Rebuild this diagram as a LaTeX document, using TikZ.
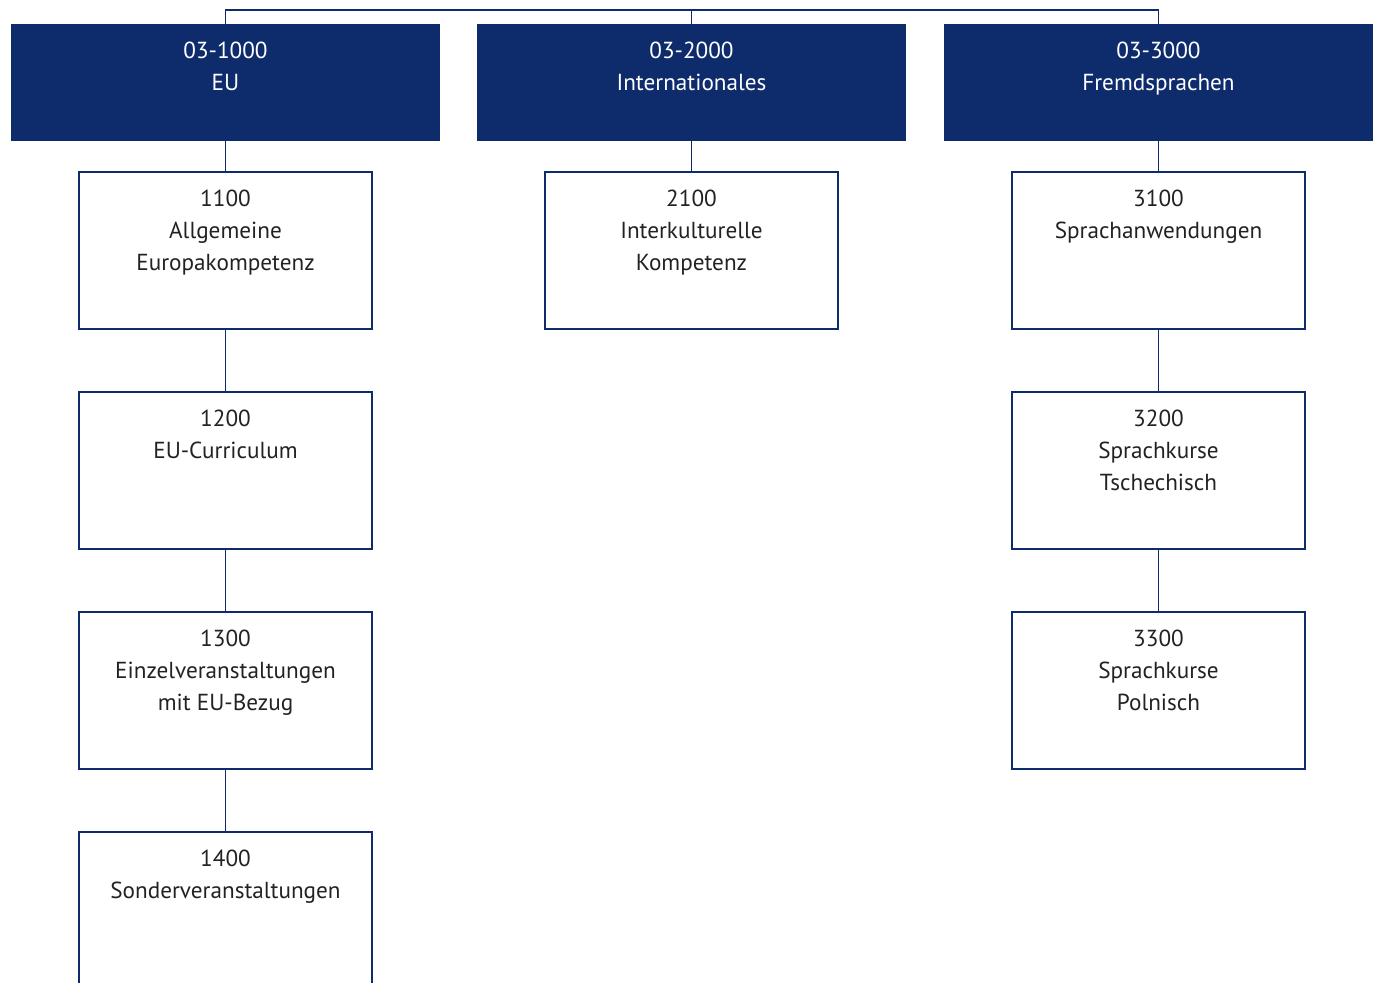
\documentclass[tikz,border=0pt]{standalone}
\usepackage{fontspec}
\setmainfont{PT Sans}
\usetikzlibrary{positioning}
\definecolor{navy}{HTML}{0E2B6C}
\definecolor{ink}{HTML}{222222}

\begin{document}
\begin{tikzpicture}[
  font=\fontsize{13.2}{18.2}\selectfont,
  headbox/.style={fill=navy, minimum width=8.58cm, minimum height=2.34cm, inner sep=0, outer sep=0},
  childbox/.style={draw=navy, line width=0.6pt, minimum width=5.86cm, minimum height=3.14cm, inner sep=0, outer sep=0},
  boxtext/.style={anchor=north, align=center, inner sep=0, text=ink},
  headtext/.style={boxtext, text=white},
  link/.style={draw=navy, line width=0.6pt},
  node distance=0.74cm
]
\useasboundingbox (0,0) rectangle (27.56,-19.66);

% Bereiche
\node[headbox, anchor=north west] (eu) at (0.22,-0.48) {};
\node[headbox, right=0.74cm of eu] (int) {};
\node[headbox, right=0.76cm of int] (fs) {};
\node[headtext] (teu) at ([yshift=-0.36cm]eu.north) {03-1000\\EU};
\node[headtext] (tint) at ([yshift=-0.36cm]int.north) {03-2000\\Internationales};
\node[headtext] (tfs) at ([yshift=-0.36cm]fs.north) {03-3000\\Fremdsprachen};

% Sammelleitung oben
\draw[link] (eu.north) -- ++(0,0.28) coordinate (bus) -| (fs.north);
\draw[link] (int.north) -- (int.north |- bus);

% EU
\node[childbox, below=0.62cm of eu] (b1100) {};
\node[childbox, below=1.26cm of b1100] (b1200) {};
\node[childbox, below=1.26cm of b1200] (b1300) {};
\node[childbox, below=1.26cm of b1300] (b1400) {};
\node[boxtext] (t1100) at ([yshift=-0.36cm]b1100.north) {1100\\Allgemeine\\Europakompetenz};
\node[boxtext] (t1200) at ([yshift=-0.36cm]b1200.north) {1200\\EU-Curriculum};
\node[boxtext] (t1300) at ([yshift=-0.36cm]b1300.north) {1300\\Einzelveranstaltungen\\mit EU-Bezug};
\node[boxtext] (t1400) at ([yshift=-0.36cm]b1400.north) {1400\\Sonderveranstaltungen};
\draw[link] (eu) -- (b1100);
\draw[link] (b1100) -- (b1200);
\draw[link] (b1200) -- (b1300);
\draw[link] (b1300) -- (b1400);

% Internationales
\node[childbox, below=0.62cm of int] (b2100) {};
\node[boxtext] (t2100) at ([yshift=-0.36cm]b2100.north) {2100\\Interkulturelle\\Kompetenz};
\draw[link] (int) -- (b2100);

% Fremdsprachen
\node[childbox, below=0.62cm of fs] (b3100) {};
\node[childbox, below=1.26cm of b3100] (b3200) {};
\node[childbox, below=1.26cm of b3200] (b3300) {};
\node[boxtext] (t3100) at ([yshift=-0.36cm]b3100.north) {3100\\Sprachanwendungen};
\node[boxtext] (t3200) at ([yshift=-0.36cm]b3200.north) {3200\\Sprachkurse\\Tschechisch};
\node[boxtext] (t3300) at ([yshift=-0.36cm]b3300.north) {3300\\Sprachkurse\\Polnisch};
\draw[link] (fs) -- (b3100);
\draw[link] (b3100) -- (b3200);
\draw[link] (b3200) -- (b3300);
\end{tikzpicture}
\end{document}
